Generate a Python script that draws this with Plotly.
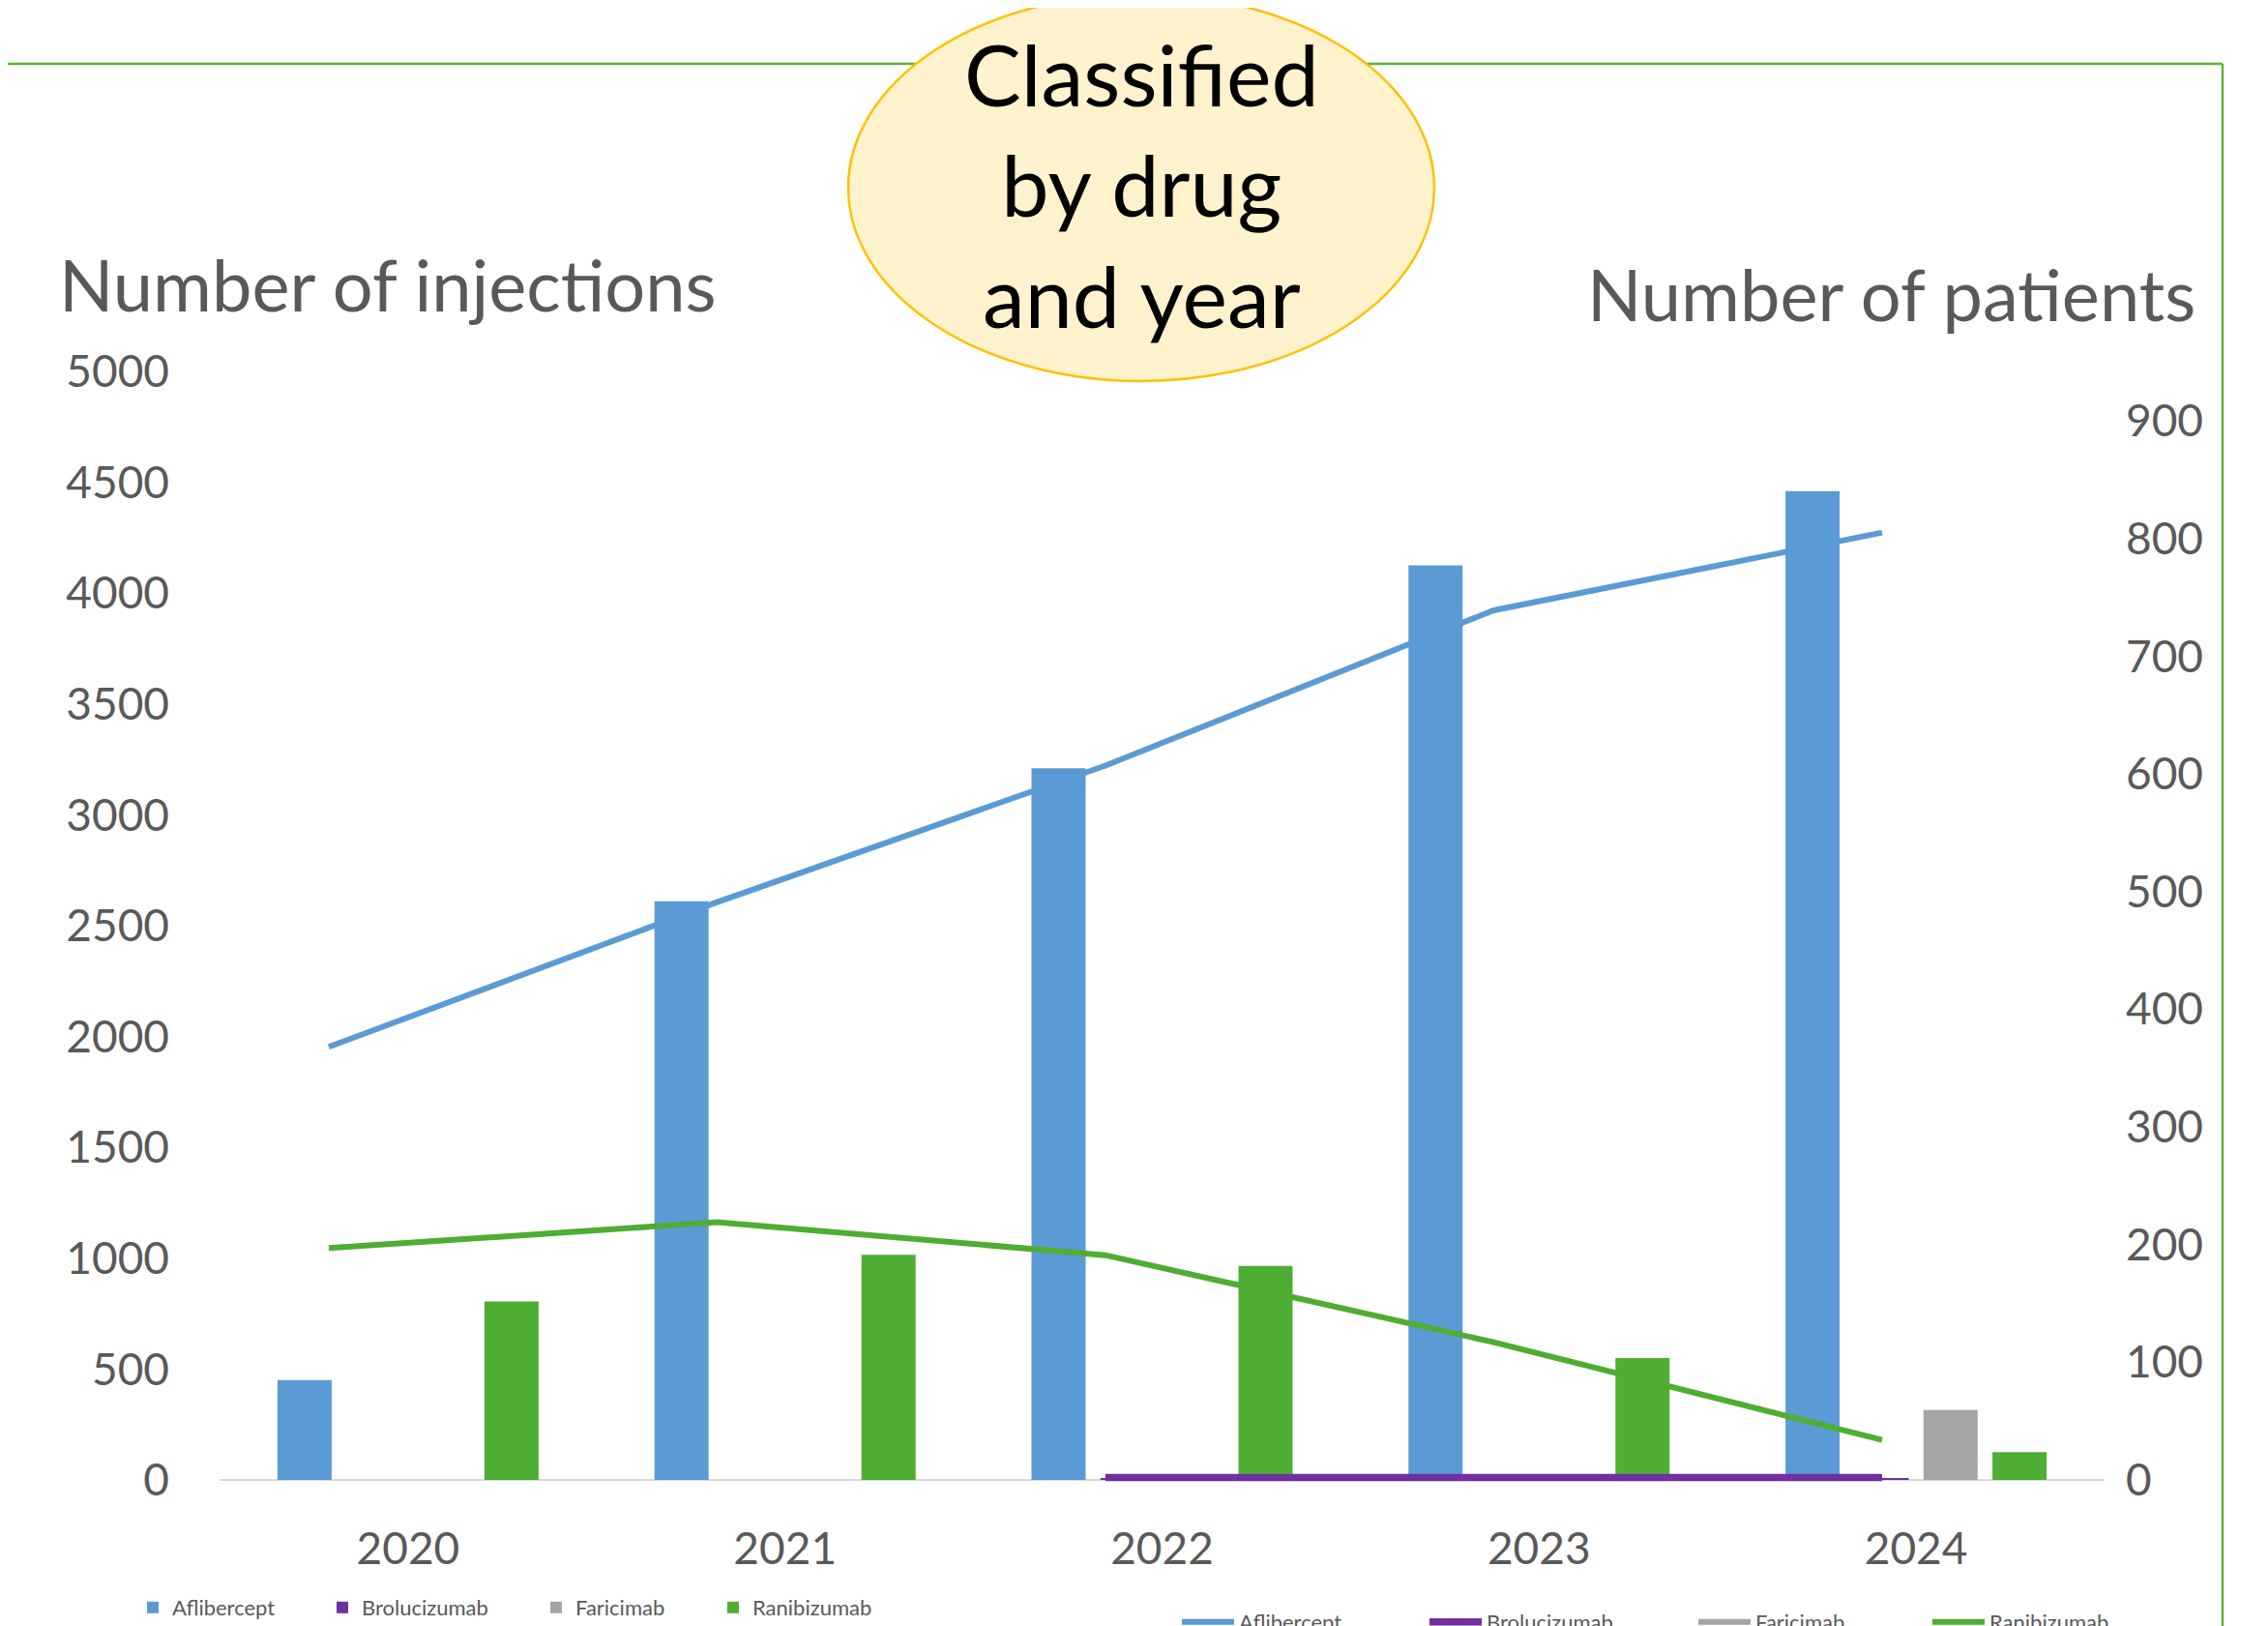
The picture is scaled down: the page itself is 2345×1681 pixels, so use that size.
import plotly.graph_objects as go

# ---- data -------------------------------------------------------------
years = [2020, 2021, 2022, 2023, 2024]
year_labels = ["2020", "2021", "2022", "2023", "2024"]
drugs = ["Aflibercept", "Brolucizumab", "Faricimab", "Ranibizumab"]
drug_colors = ["#5B9BD5", "#7030A0", "#A5A5A5", "#4EAD33"]
line_widths = [6, 7.5, 6, 6]

# number of injections (bars, left axis)
injections_aflibercept = [450, 2610, 3210, 4125, 4460]
injections_brolucizumab = [0, 0, 8, 8, 8]
injections_faricimab = [0, 0, 0, 0, 315]
injections_ranibizumab = [805, 1015, 965, 550, 125]

# number of patients (lines, right axis)
patients_aflibercept = [368, 491, 607, 739, 805]
patients_brolucizumab = [None, None, 2, 2, 2]
patients_faricimab = [None, None, None, None, 60]
patients_ranibizumab = [197, 219, 191, 117, 34]

injections = [injections_aflibercept, injections_brolucizumab,
              injections_faricimab, injections_ranibizumab]
patients = [patients_aflibercept, patients_brolucizumab,
            patients_faricimab, patients_ranibizumab]

# ---- page geometry (page pixels) ---------------------------------------
W, H = 2345, 1681
OFF = 8                      # default body margin of the html page
L, R, T = 227, 2176, 384     # plot area
Z = 1530                     # zero line of both value axes
B = 1540                     # plot bottom, a little below zero so lines at 0 are not cut

Y_MAX, Y2_MAX = 5000, 942
y_min = -(B - Z) / (Z - T) * Y_MAX
y2_min = -(B - Z) / (Z - T) * Y2_MAX

GREY = "#595959"
FONT = "Lato, 'Open Sans', sans-serif"


def px(x):
    return (x - L) / (R - L)


def py(y):
    return (B - y) / (B - T)


def cx(x):
    return (x - OFF) / W


def cy(y):
    return (H - (y - OFF)) / H


fig = go.Figure()

# text slot widths so the legend entries land where Excel put them
bar_slots = [151, 176, 138, 130]
line_slots = [187, 209, 173, 150]

for name, color, vals, slot in zip(drugs, drug_colors, injections, bar_slots):
    fig.add_trace(go.Bar(
        x=year_labels,
        y=vals,
        name=name,
        marker=dict(color=color, line=dict(width=0)),
        legend="legend",
        legendwidth=slot,
        xaxis="x",
        yaxis="y",
    ))

for name, color, vals, slot, lw in zip(drugs, drug_colors, patients,
                                       line_slots, line_widths):
    fig.add_trace(go.Scatter(
        x=years,
        y=vals,
        name=name,
        mode="lines",
        line=dict(color=color, width=lw),
        legend="legend2",
        legendwidth=slot,
        xaxis="x2",
        yaxis="y2",
    ))

fig.update_layout(
    width=W,
    height=H,
    template="none",
    paper_bgcolor="white",
    plot_bgcolor="white",
    font=dict(family=FONT, color=GREY),
    margin=dict(l=L - OFF, r=W - (R - OFF), t=T - OFF, b=H - (B - OFF),
                autoexpand=False),
    barmode="group",
    bargap=0.268,
    bargroupgap=0.215,
    showlegend=True,
    xaxis=dict(
        type="category",
        range=[-0.5, 4.5],
        showgrid=False,
        zeroline=False,
        showline=False,
        ticks="",
        tickfont=dict(size=46, color=GREY, family=FONT),
        ticklabelstandoff=30,
    ),
    xaxis2=dict(
        overlaying="x",
        range=[2019.7186, 2024.573],
        visible=False,
    ),
    yaxis=dict(
        range=[y_min, Y_MAX],
        tickvals=list(range(0, 5001, 500)),
        showgrid=False,
        zeroline=False,
        showline=False,
        ticks="",
        tickfont=dict(size=46, color=GREY, family=FONT),
        ticklabelstandoff=51,
    ),
    yaxis2=dict(
        overlaying="y",
        side="right",
        anchor="x2",
        range=[y2_min, Y2_MAX],
        tickvals=list(range(0, 901, 100)),
        showgrid=False,
        zeroline=False,
        showline=False,
        ticks="",
        tickfont=dict(size=46, color=GREY, family=FONT),
        ticklabelstandoff=21,
    ),
    legend=dict(
        xref="container", yref="container",
        x=cx(138), y=cy(1662),
        xanchor="left", yanchor="middle",
        orientation="h",
        itemwidth=30,
        bgcolor="rgba(0,0,0,0)",
        font=dict(size=22, color=GREY, family=FONT),
    ),
    legend2=dict(
        xref="container", yref="container",
        x=cx(1217), y=cy(1677),
        xanchor="left", yanchor="middle",
        orientation="h",
        itemwidth=54,
        bgcolor="rgba(0,0,0,0)",
        font=dict(size=22, color=GREY, family=FONT),
    ),
)

# category axis line at zero, under the bars and lines
fig.add_shape(type="line", xref="paper", yref="y",
              x0=0, x1=1, y0=0, y1=0,
              line=dict(color="#D9D9D9", width=2), layer="below")

# green frame and the yellow oval
fig.add_shape(type="line", xref="paper", yref="paper",
              x0=px(-5), x1=px(2298), y0=py(66), y1=py(66),
              line=dict(color="#5BB33A", width=2.5), layer="above")
fig.add_shape(type="line", xref="paper", yref="paper",
              x0=px(2298), x1=px(2298), y0=py(66), y1=py(1700),
              line=dict(color="#5BB33A", width=2.5), layer="above")
fig.add_shape(type="circle", xref="paper", yref="paper",
              x0=px(877), x1=px(1483), y0=py(394), y1=py(-6),
              fillcolor="#FFF2CC", line=dict(color="#FFC000", width=2.5),
              layer="above")

fig.add_annotation(
    text="Classified<br>by drug<br>and year",
    xref="paper", yref="paper", x=px(1180), y=py(191),
    xanchor="center", yanchor="middle", showarrow=False,
    font=dict(size=88, color="black", family=FONT),
)
fig.add_annotation(
    text="Number of injections",
    xref="paper", yref="paper", x=px(59), y=py(293),
    xanchor="left", yanchor="middle", showarrow=False,
    font=dict(size=74, color=GREY, family=FONT),
)
fig.add_annotation(
    text="Number of patients",
    xref="paper", yref="paper", x=px(2272), y=py(303),
    xanchor="right", yanchor="middle", showarrow=False,
    font=dict(size=74, color=GREY, family=FONT),
)

fig.write_html("out.html")
